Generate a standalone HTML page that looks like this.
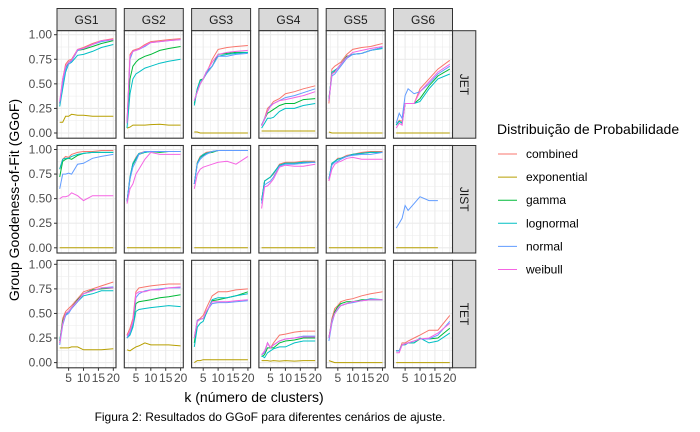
<!DOCTYPE html>
<html><head><meta charset="utf-8">
<style>
html,body{margin:0;padding:0;background:#fff;}
svg{display:block;font-family:"Liberation Sans",sans-serif;}
</style></head>
<body>
<svg id="chart" width="700" height="432" viewBox="0 0 700 432" xmlns="http://www.w3.org/2000/svg"></svg>
<script>
// ---- data ----
const kValues = [2,3,4,5,6,8,10,13,16,20];
const scenarios = ["GS1","GS2","GS3","GS4","GS5","GS6"];
const methods = ["JET","JIST","TET"];
const seriesNames = ["combined","exponential","gamma","lognormal","normal","weibull"];
const seriesColors = ["#F8766D","#B79F00","#00BA38","#00BFC4","#619CFF","#F564E3"];
const xTicks = [5,10,15,20];
const yTicks = [0,0.25,0.5,0.75,1];
const yTickLabels = ["0.00","0.25","0.50","0.75","1.00"];

const jetGS1 = [[.3,.55,.7,.74,.75,.85,.87,.91,.94,.96],[.11,.11,.17,.17,.19,.18,.18,.17,.17,.17],[.3,.5,.65,.72,.74,.84,.85,.88,.91,.94],[.27,.45,.62,.7,.72,.79,.8,.83,.87,.9],[.3,.5,.65,.7,.73,.84,.86,.9,.93,.95],[.32,.55,.68,.72,.74,.85,.86,.9,.94,.95]];
const jetGS2 = [[.1,.8,.84,.85,.86,.9,.93,.94,.95,.96],[.05,.06,.08,.08,.08,.08,.085,.09,.08,.08],[.1,.55,.68,.72,.75,.78,.8,.84,.86,.88],[.05,.4,.55,.6,.62,.66,.68,.71,.73,.75],[.1,.75,.83,.84,.85,.88,.92,.93,.94,.95],[.1,.78,.83,.84,.85,.89,.92,.93,.94,.95]];
const jetGS3 = [[.33,.42,.5,.55,.6,.75,.85,.87,.88,.89],[.01,.01,0,0,0,0,0,0,0,0],[.3,.45,.54,.55,.6,.68,.8,.81,.82,.82],[.28,.45,.53,.55,.62,.68,.78,.8,.81,.82],[.33,.42,.5,.55,.6,.68,.78,.78,.8,.81],[.33,.42,.5,.55,.62,.72,.8,.82,.83,.84]];
const jetGS4 = [[.08,.15,.25,.28,.32,.35,.4,.42,.45,.48],[.02,.02,.02,.02,.02,.02,.02,.02,.02,.02],[.08,.14,.2,.22,.24,.28,.3,.3,.34,.35],[.05,.1,.15,.15,.16,.22,.25,.25,.28,.3],[.08,.15,.22,.28,.3,.33,.36,.38,.41,.45],[.07,.14,.22,.27,.3,.33,.34,.36,.38,.42]];
const jetGS5 = [[.3,.65,.68,.7,.72,.8,.85,.87,.88,.91],[.01,0,0,0,0,0,0,0,0,0],[.35,.6,.63,.66,.7,.78,.8,.81,.84,.87],[.33,.62,.64,.66,.7,.77,.8,.81,.84,.86],[.33,.58,.6,.64,.68,.76,.8,.81,.84,.87],[.33,.6,.62,.66,.7,.77,.82,.84,.86,.88]];
const jetGS6 = [[.08,.13,.12,.3,.3,.3,.45,.55,.65,.74],[0,0,0,0,0,0,0,0,0,0],[.08,.12,.1,.3,.3,.3,.35,.48,.58,.65],[.08,.12,.1,.3,.3,.3,.32,.45,.55,.6],[.1,.2,.15,.38,.45,.4,.42,.5,.6,.68],[.05,.1,.08,.3,.3,.3,.42,.52,.62,.7]];
const jistGS1 = [[.8,.9,.93,.92,.95,.97,.98,.98,.99,.99],[0,0,0,0,0,0,0,0,0,0],[.72,.88,.9,.91,.9,.94,.96,.97,.97,.97],[.8,.9,.91,.91,.93,.95,.96,.97,.97,.97],[.6,.75,.75,.76,.75,.85,.86,.91,.93,.95],[.5,.52,.52,.53,.56,.53,.48,.53,.53,.53]];
const jistGS2 = [[.47,.72,.86,.92,.96,.98,.98,.98,.98,.98],[0,0,0,0,0,0,0,0,0,0],[.47,.7,.85,.9,.95,.97,.98,.97,.98,.98],[.47,.72,.86,.91,.96,.97,.98,.98,.98,.98],[.47,.7,.82,.88,.95,.98,.98,.98,.98,.98],[.45,.6,.65,.75,.8,.9,.97,.95,.95,.95]];
const jistGS3 = [[.65,.87,.93,.95,.97,.98,.99,.99,.99,.99],[0,0,0,0,0,0,0,0,0,0],[.65,.86,.92,.94,.96,.97,.99,.99,.99,.99],[.65,.86,.92,.95,.96,.98,.99,.99,.99,.99],[.65,.85,.9,.93,.95,.98,.99,.99,.99,.99],[.6,.75,.8,.82,.83,.85,.87,.88,.85,.93]];
const jistGS4 = [[.48,.68,.7,.72,.75,.85,.87,.87,.88,.88],[0,0,0,0,0,0,0,0,0,0],[.48,.68,.7,.72,.76,.84,.86,.86,.87,.87],[.48,.68,.7,.72,.76,.84,.86,.86,.87,.87],[.45,.64,.66,.68,.72,.83,.85,.85,.86,.87],[.4,.62,.63,.66,.7,.82,.84,.83,.83,.85]];
const jistGS5 = [[.68,.85,.88,.91,.91,.94,.95,.97,.98,.98],[0,0,0,0,0,0,0,0,0,0],[.7,.86,.88,.9,.91,.93,.95,.96,.97,.97],[.7,.86,.88,.9,.91,.93,.95,.96,.97,.97],[.7,.84,.87,.88,.9,.93,.94,.95,.95,.97],[.68,.8,.85,.87,.88,.91,.92,.9,.9,.9]];
const jistGS6 = [[null,null,null,null,null,null,null,null,null,null],[0,0,0,0,0,0,0,0,0,null],[null,null,null,null,null,null,null,null,null,null],[null,null,null,null,null,null,null,null,null,null],[.2,.25,.3,.43,.38,.45,.52,.48,.48,null],[null,null,null,null,null,null,null,null,null,null]];
const tetGS1 = [[.2,.45,.52,.55,.58,.65,.72,.75,.78,.82],[.15,.15,.15,.15,.16,.16,.13,.13,.13,.14],[.22,.42,.5,.52,.56,.64,.7,.74,.75,.76],[.22,.4,.48,.52,.55,.62,.68,.7,.73,.73],[.18,.38,.48,.5,.55,.62,.7,.73,.76,.77],[.2,.4,.5,.52,.56,.63,.7,.73,.76,.76]];
const tetGS2 = [[.28,.35,.45,.72,.76,.77,.78,.79,.8,.8],[.13,.12,.14,.16,.17,.2,.18,.18,.18,.17],[.25,.3,.38,.6,.62,.63,.64,.66,.67,.69],[.25,.28,.36,.52,.54,.55,.56,.57,.58,.57],[.25,.3,.4,.66,.7,.73,.74,.75,.76,.76],[.27,.32,.42,.7,.72,.72,.74,.74,.76,.77]];
const tetGS3 = [[.25,.43,.45,.48,.55,.68,.72,.72,.74,.75],[0,.02,.02,.03,.03,.03,.03,.03,.03,.03],[.2,.42,.44,.45,.5,.63,.64,.66,.68,.72],[.16,.36,.4,.42,.5,.64,.66,.66,.68,.7],[.25,.43,.44,.45,.52,.6,.61,.61,.62,.63],[.25,.42,.44,.45,.52,.62,.62,.62,.63,.64]];
const tetGS4 = [[.08,.1,.2,.15,.2,.28,.29,.31,.32,.32],[.02,.02,.02,.015,.02,.015,.02,.015,.02,.02],[.06,.08,.15,.15,.15,.2,.22,.23,.25,.25],[.07,.05,.1,.12,.14,.16,.16,.2,.22,.22],[.08,.1,.2,.15,.18,.22,.24,.25,.27,.27],[.08,.12,.2,.15,.18,.22,.24,.25,.26,.26]];
const tetGS5 = [[.25,.45,.55,.58,.62,.64,.65,.68,.7,.72],[.02,.01,0,0,0,0,0,0,0,0],[.25,.42,.52,.57,.6,.62,.62,.64,.64,.64],[.25,.43,.5,.55,.58,.6,.62,.63,.65,.64],[.22,.4,.5,.54,.58,.6,.61,.63,.64,.64],[.25,.42,.5,.55,.58,.6,.62,.63,.64,.64]];
const tetGS6 = [[.12,.12,.2,.2,.22,.25,.28,.33,.33,.48],[0,0,0,0,0,0,0,0,0,0],[.12,.12,.18,.19,.2,.2,.24,.24,.25,.35],[.12,.12,.18,.18,.2,.2,.25,.2,.22,.3],[.12,.12,.18,.19,.2,.22,.24,.24,.28,.42],[.1,.1,.18,.19,.2,.22,.24,.25,.3,.4]];

const panelData = [
  [jetGS1,jetGS2,jetGS3,jetGS4,jetGS5,jetGS6],
  [jistGS1,jistGS2,jistGS3,jistGS4,jistGS5,jistGS6],
  [tetGS1,tetGS2,tetGS3,tetGS4,tetGS5,tetGS6]
];

const NS = "http://www.w3.org/2000/svg";
const svg = document.getElementById("chart");
const PL = 57, PW = 59, PSTEP = 67.3;
const PT = 30.7, PH = 107.5, RSTEP = 114.8;
function mk(tag, attrs, parent){ const e=document.createElementNS(NS,tag); for(const k in attrs) e.setAttribute(k,attrs[k]); (parent||svg).appendChild(e); return e; }
function xScale(col,k){ return PL+col*PSTEP + (k-2+0.9)*(PW/19.8); }
function yScale(row,v){ return PT+row*RSTEP + 4 + (1-v)*98.3; }

for(let c=0;c<6;c++){
  const x=PL+c*PSTEP;
  const s=mk("rect",{x:x,y:8.5,width:PW,height:22.2,fill:"#D9D9D9",stroke:"#333",'stroke-width':1});
  
  
  const t=mk("text",{x:x+PW/2,y:24,'text-anchor':'middle','font-size':12,fill:'#1A1A1A'});
  t.textContent=scenarios[c];
  
  
}
for(let r=0;r<3;r++){
  const y=PT+r*RSTEP, x=PL+5*PSTEP+PW;
  const s=mk("rect",{x:x,y:y,width:23.3,height:PH,fill:"#D9D9D9",stroke:"#333",'stroke-width':1});
  
  
  const t=mk("text",{x:0,y:0,'text-anchor':'middle','font-size':12,fill:'#1A1A1A',transform:`translate(${x+7.5},${y+PH/2}) rotate(90)`});
  t.textContent=methods[r];
  
  
}

for(let r=0;r<3;r++){
  for(let c=0;c<6;c++){
    const x0=PL+c*PSTEP, y0=PT+r*RSTEP;
    const g=mk("g",{});
    
    
    mk("rect",{x:x0,y:y0,width:PW,height:PH,fill:"#fff"},g);
    for(const v of [0.125,0.375,0.625,0.875]) mk("line",{x1:x0,x2:x0+PW,y1:yScale(r,v),y2:yScale(r,v),stroke:"#EBEBEB",'stroke-width':0.55},g);
    for(const k of [2.5,7.5,12.5,17.5]) mk("line",{x1:xScale(c,k),x2:xScale(c,k),y1:y0,y2:y0+PH,stroke:"#EBEBEB",'stroke-width':0.55},g);
    for(const v of yTicks) mk("line",{x1:x0,x2:x0+PW,y1:yScale(r,v),y2:yScale(r,v),stroke:"#EBEBEB",'stroke-width':1.1},g);
    for(const k of xTicks) mk("line",{x1:xScale(c,k),x2:xScale(c,k),y1:y0,y2:y0+PH,stroke:"#EBEBEB",'stroke-width':1.1},g);
    const d=panelData[r][c];
    for(let s=0;s<seriesNames.length;s++){
      let pts=[];
      for(let i=0;i<kValues.length;i++){ if(d[s][i]!==null&&d[s][i]!==undefined) pts.push(xScale(c,kValues[i]).toFixed(1)+","+yScale(r,d[s][i]).toFixed(1)); }
      if(pts.length<2) continue;
      const p=mk("polyline",{points:pts.join(" "),fill:"none",stroke:seriesColors[s],'stroke-width':1},g);
      
      
    }
    mk("rect",{x:x0,y:y0,width:PW,height:PH,fill:"none",stroke:"#333",'stroke-width':1.1},g);
    if(c===0){
      for(let i=0;i<yTicks.length;i++){
        const y=yScale(r,yTicks[i]);
        mk("line",{x1:x0-3,x2:x0,y1:y,y2:y,stroke:"#333",'stroke-width':1});
        const t=mk("text",{x:x0-5,y:y+4,'text-anchor':'end','font-size':12,fill:'#4D4D4D'});
        t.textContent=yTickLabels[i];
        
        
      }
    }
    if(r===2){
      for(const k of xTicks){
        const x=xScale(c,k);
        mk("line",{x1:x,x2:x,y1:y0+PH,y2:y0+PH+3,stroke:"#333",'stroke-width':1});
        const t=mk("text",{x:x,y:y0+PH+14,'text-anchor':'middle','font-size':12,fill:'#4D4D4D'});
        t.textContent=String(k);
        
        
      }
    }
  }
}

let t=mk("text",{x:0,y:0,'text-anchor':'middle','font-size':14,fill:'#000',transform:'translate(19,200) rotate(-90)'});
t.textContent="Group Goodeness-of-Fit (GGoF)";
 
t=mk("text",{x:254,y:402,'text-anchor':'middle','font-size':14,fill:'#000'});
t.textContent="k (número de clusters)";
 
t=mk("text",{x:270,y:421,'text-anchor':'middle','font-size':12,fill:'#000'});
t.textContent="Figura 2: Resultados do GGoF para diferentes cenários de ajuste.";
 

const lg=mk("g",{});
 
t=mk("text",{x:497,y:134,'font-size':14,fill:'#000'},lg);
t.textContent="Distribuição de Probabilidade";
 
for(let s=0;s<seriesNames.length;s++){
  const y=154+s*23.1;
  const e=mk("g",{},lg);
   
  mk("line",{x1:498,x2:517,y1:y,y2:y,stroke:seriesColors[s],'stroke-width':1},e);
  const tt=mk("text",{x:526,y:y+4,'font-size':12,fill:'#000'},e);
  tt.textContent=seriesNames[s];
}
</script>
</body></html>
